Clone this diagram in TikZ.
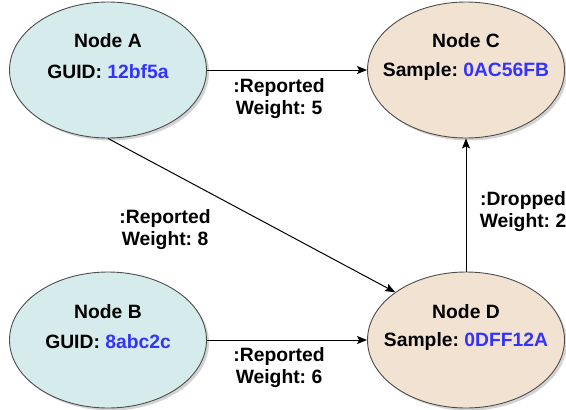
\documentclass[tikz,border=0pt]{standalone}
\usepackage{fontspec}
\setmainfont{Liberation Sans}
\usetikzlibrary{shapes.geometric,arrows.meta,shadows,calc}
\definecolor{cyanfill}{HTML}{D6EBEB}
\definecolor{beigefill}{HTML}{F2E2D2}
\definecolor{edgegray}{HTML}{4D4D4D}
\definecolor{idblue}{HTML}{3333FF}
\frenchspacing
\tikzset{
  ellnode/.style={ellipse, draw=edgegray, line width=0.9bp, minimum width=197bp,
    minimum height=136bp, inner sep=0pt,
    drop shadow={shadow xshift=2.5bp, shadow yshift=-2.5bp, opacity=0.35, fill=gray}},
  procnode/.style={ellnode, fill=cyanfill},
  samplenode/.style={ellnode, fill=beigefill},
  txt/.style={font=\fontsize{19.3bp}{22bp}\selectfont\bfseries, inner sep=0pt},
  edgelabel/.style={txt, align=center},
  link/.style={draw=black, line width=1bp, -{Stealth[length=10bp,width=8bp,inset=2bp]}}
}
\begin{document}
\begin{tikzpicture}[x=1bp,y=1bp]
\useasboundingbox (0,0) rectangle (566,409);

% ellipses
\node[procnode]   (A) at (108,339) {};
\node[samplenode] (C) at (466,339) {};
\node[procnode]   (B) at (108,69)  {};
\node[samplenode] (D) at (466,69)  {};

% node texts
\node[txt] (At) at ($(A)+(0,29)$) {Node A};
\node[txt] (Ai) at ($(A)+(0,-2)$) {GUID: \textcolor{idblue}{12bf5a}};
\node[txt] (Ct) at ($(C)+(0,29)$) {Node C};
\node[txt] (Ci) at ($(C)+(0,-2)$) {Sample: \textcolor{idblue}{0AC56FB}};
\node[txt] (Bt) at ($(B)+(0,28)$) {Node B};
\node[txt] (Bi) at ($(B)+(0,-2)$) {GUID: \textcolor{idblue}{8abc2c}};
\node[txt] (Dt) at ($(D)+(0,28)$) {Node D};
\node[txt] (Di) at ($(D)+(0,-2)$) {Sample: \textcolor{idblue}{0DFF12A}};

% connectors
\draw[link] (A.east) -- (C.west);
\draw[link] (A.south) -- (D.146.5);
\draw[link] (B.east) -- (D.west);
\draw[link] (D.north) -- (C.south);

% connector labels
\node[edgelabel] (l5) at (279,310) {:Reported\\Weight: 5};
\node[edgelabel] (l8) at (165,179) {:Reported\\Weight: 8};
\node[edgelabel] (l6) at (279,41)  {:Reported\\Weight: 6};
\node[edgelabel] (l2) at (523,197) {:Dropped\\Weight: 2};
\end{tikzpicture}
\end{document}
